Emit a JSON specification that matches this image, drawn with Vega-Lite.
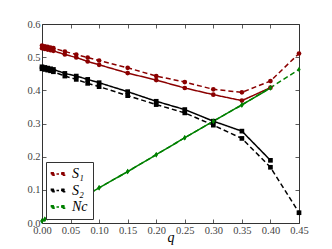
{
  "$schema": "https://vega.github.io/schema/vega-lite/v6.json",
  "width": 257,
  "height": 199,
  "autosize": {"type": "none"},
  "padding": {"left": 42, "top": 24, "right": 33, "bottom": 26},
  "data": {"values": [
    {"q":0,"v":0.527,"s":"S₁","t":"solid"},{"q":0.005,"v":0.525,"s":"S₁","t":"solid"},{"q":0.01,"v":0.523,"s":"S₁","t":"solid"},{"q":0.015,"v":0.521,"s":"S₁","t":"solid"},{"q":0.02,"v":0.519,"s":"S₁","t":"solid"},{"q":0.04,"v":0.508,"s":"S₁","t":"solid"},{"q":0.06,"v":0.499,"s":"S₁","t":"solid"},{"q":0.08,"v":0.487,"s":"S₁","t":"solid"},{"q":0.1,"v":0.477,"s":"S₁","t":"solid"},{"q":0.15,"v":0.452,"s":"S₁","t":"solid"},{"q":0.2,"v":0.431,"s":"S₁","t":"solid"},{"q":0.25,"v":0.407,"s":"S₁","t":"solid"},{"q":0.3,"v":0.387,"s":"S₁","t":"solid"},{"q":0.35,"v":0.369,"s":"S₁","t":"solid"},{"q":0.4,"v":0.408,"s":"S₁","t":"solid"},
    {"q":0,"v":0.535,"s":"S₁","t":"dashed"},{"q":0.005,"v":0.533,"s":"S₁","t":"dashed"},{"q":0.01,"v":0.531,"s":"S₁","t":"dashed"},{"q":0.015,"v":0.529,"s":"S₁","t":"dashed"},{"q":0.02,"v":0.527,"s":"S₁","t":"dashed"},{"q":0.04,"v":0.517,"s":"S₁","t":"dashed"},{"q":0.06,"v":0.508,"s":"S₁","t":"dashed"},{"q":0.08,"v":0.499,"s":"S₁","t":"dashed"},{"q":0.1,"v":0.49,"s":"S₁","t":"dashed"},{"q":0.15,"v":0.468,"s":"S₁","t":"dashed"},{"q":0.2,"v":0.443,"s":"S₁","t":"dashed"},{"q":0.25,"v":0.425,"s":"S₁","t":"dashed"},{"q":0.3,"v":0.403,"s":"S₁","t":"dashed"},{"q":0.35,"v":0.394,"s":"S₁","t":"dashed"},{"q":0.4,"v":0.428,"s":"S₁","t":"dashed"},{"q":0.45,"v":0.511,"s":"S₁","t":"dashed"},
    {"q":0,"v":0.471,"s":"S₂","t":"solid"},{"q":0.005,"v":0.469,"s":"S₂","t":"solid"},{"q":0.01,"v":0.467,"s":"S₂","t":"solid"},{"q":0.015,"v":0.465,"s":"S₂","t":"solid"},{"q":0.02,"v":0.463,"s":"S₂","t":"solid"},{"q":0.04,"v":0.451,"s":"S₂","t":"solid"},{"q":0.06,"v":0.443,"s":"S₂","t":"solid"},{"q":0.08,"v":0.433,"s":"S₂","t":"solid"},{"q":0.1,"v":0.423,"s":"S₂","t":"solid"},{"q":0.15,"v":0.396,"s":"S₂","t":"solid"},{"q":0.2,"v":0.367,"s":"S₂","t":"solid"},{"q":0.25,"v":0.342,"s":"S₂","t":"solid"},{"q":0.3,"v":0.307,"s":"S₂","t":"solid"},{"q":0.35,"v":0.277,"s":"S₂","t":"solid"},{"q":0.4,"v":0.189,"s":"S₂","t":"solid"},
    {"q":0,"v":0.465,"s":"S₂","t":"dashed"},{"q":0.005,"v":0.463,"s":"S₂","t":"dashed"},{"q":0.01,"v":0.461,"s":"S₂","t":"dashed"},{"q":0.015,"v":0.459,"s":"S₂","t":"dashed"},{"q":0.02,"v":0.456,"s":"S₂","t":"dashed"},{"q":0.04,"v":0.443,"s":"S₂","t":"dashed"},{"q":0.06,"v":0.433,"s":"S₂","t":"dashed"},{"q":0.08,"v":0.421,"s":"S₂","t":"dashed"},{"q":0.1,"v":0.411,"s":"S₂","t":"dashed"},{"q":0.15,"v":0.384,"s":"S₂","t":"dashed"},{"q":0.2,"v":0.357,"s":"S₂","t":"dashed"},{"q":0.25,"v":0.332,"s":"S₂","t":"dashed"},{"q":0.3,"v":0.295,"s":"S₂","t":"dashed"},{"q":0.35,"v":0.255,"s":"S₂","t":"dashed"},{"q":0.4,"v":0.168,"s":"S₂","t":"dashed"},{"q":0.45,"v":0.031,"s":"S₂","t":"dashed"},
    {"q":0,"v":0.006,"s":"Nc","t":"solid"},{"q":0.005,"v":0.011,"s":"Nc","t":"solid"},{"q":0.01,"v":0.016,"s":"Nc","t":"solid"},{"q":0.015,"v":0.021,"s":"Nc","t":"solid"},{"q":0.02,"v":0.026,"s":"Nc","t":"solid"},{"q":0.04,"v":0.046,"s":"Nc","t":"solid"},{"q":0.06,"v":0.066,"s":"Nc","t":"solid"},{"q":0.08,"v":0.086,"s":"Nc","t":"solid"},{"q":0.1,"v":0.106,"s":"Nc","t":"solid"},{"q":0.15,"v":0.155,"s":"Nc","t":"solid"},{"q":0.2,"v":0.206,"s":"Nc","t":"solid"},{"q":0.25,"v":0.257,"s":"Nc","t":"solid"},{"q":0.3,"v":0.307,"s":"Nc","t":"solid"},{"q":0.35,"v":0.356,"s":"Nc","t":"solid"},{"q":0.4,"v":0.407,"s":"Nc","t":"solid"},
    {"q":0,"v":0.006,"s":"Nc","t":"dashed"},{"q":0.005,"v":0.011,"s":"Nc","t":"dashed"},{"q":0.01,"v":0.016,"s":"Nc","t":"dashed"},{"q":0.015,"v":0.021,"s":"Nc","t":"dashed"},{"q":0.02,"v":0.026,"s":"Nc","t":"dashed"},{"q":0.04,"v":0.046,"s":"Nc","t":"dashed"},{"q":0.06,"v":0.066,"s":"Nc","t":"dashed"},{"q":0.08,"v":0.086,"s":"Nc","t":"dashed"},{"q":0.1,"v":0.106,"s":"Nc","t":"dashed"},{"q":0.15,"v":0.155,"s":"Nc","t":"dashed"},{"q":0.2,"v":0.206,"s":"Nc","t":"dashed"},{"q":0.25,"v":0.257,"s":"Nc","t":"dashed"},{"q":0.3,"v":0.307,"s":"Nc","t":"dashed"},{"q":0.35,"v":0.356,"s":"Nc","t":"dashed"},{"q":0.4,"v":0.408,"s":"Nc","t":"dashed"},{"q":0.45,"v":0.463,"s":"Nc","t":"dashed"}
  ]},
  "layer": [
    {
      "mark": {"type": "line", "strokeWidth": 1.5},
      "encoding": {
        "x": {"field": "q", "type": "quantitative", "scale": {"domain": [0, 0.45], "nice": false, "zero": false},
              "axis": {"orient": "bottom", "title": "q", "values": [0,0.05,0.1,0.15,0.2,0.25,0.3,0.35,0.4,0.45], "format": ".2f",
                       "titleBaseline": "alphabetic", "titleY": 18}},
        "y": {"field": "v", "type": "quantitative", "scale": {"domain": [0, 0.6], "nice": false},
              "axis": {"orient": "left", "title": null, "values": [0,0.1,0.2,0.3,0.4,0.5,0.6], "format": ".1f"}},
        "color": {"field": "s", "type": "nominal",
                  "scale": {"domain": ["S₁","S₂","Nc"], "range": ["#8b0000","#000000","#008000"]},
                  "legend": {"orient": "bottom-left", "offset": 4, "title": null,
                             "symbolType": "M-1,0L1,0M-1.1,-0.22L-0.66,-0.22L-0.66,0.22L-1.1,0.22ZM0.66,-0.22L1.1,-0.22L1.1,0.22L0.66,0.22Z",
                             "symbolSize": 144, "symbolStrokeWidth": 1.5, "symbolDash": [2.5, 2],
                             "labelFont": "Liberation Serif", "labelFontStyle": "italic", "labelFontSize": 14, "labelColor": "#000",
                             "fillColor": "white", "strokeColor": "#333", "padding": 5, "rowPadding": 2.5, "labelOffset": 7,
                             "encode": {"symbols": {"update": {"fill": {"scale": "color", "field": "value"}, "stroke": {"scale": "color", "field": "value"}}}}}},
        "strokeDash": {"field": "t", "type": "nominal", "scale": {"domain": ["solid","dashed"], "range": [[1,0],[5,3]]}, "legend": null},
        "detail": {"field": "t"}
      }
    },
    {
      "transform": [{"filter": "datum.s === 'S₁'"}],
      "mark": {"type": "point", "filled": true, "opacity": 1, "shape": "circle", "size": 22},
      "encoding": {
        "x": {"field": "q", "type": "quantitative", "axis": {"orient": "top", "labels": false, "title": null, "values": [0,0.05,0.1,0.15,0.2,0.25,0.3,0.35,0.4,0.45]}},
        "y": {"field": "v", "type": "quantitative", "axis": {"orient": "right", "labels": false, "title": null, "values": [0,0.1,0.2,0.3,0.4,0.5,0.6]}},
        "color": {"field": "s", "type": "nominal", "legend": null}
      }
    },
    {
      "transform": [{"filter": "datum.s === 'S₂'"}],
      "mark": {"type": "point", "filled": true, "opacity": 1, "shape": "square", "size": 22},
      "encoding": {
        "x": {"field": "q", "type": "quantitative", "axis": null},
        "y": {"field": "v", "type": "quantitative", "axis": null},
        "color": {"field": "s", "type": "nominal", "legend": null}
      }
    },
    {
      "transform": [{"filter": "datum.s === 'Nc'"}],
      "mark": {"type": "point", "filled": true, "opacity": 1, "shape": "M0,-1L0.6,0L0,1L-0.6,0Z", "size": 30},
      "encoding": {
        "x": {"field": "q", "type": "quantitative", "axis": null},
        "y": {"field": "v", "type": "quantitative", "axis": null},
        "color": {"field": "s", "type": "nominal", "legend": null}
      }
    }
  ],
  "resolve": {"axis": {"x": "independent", "y": "independent"}},
  "config": {
    "view": {"stroke": "#333", "strokeWidth": 1},
    "axis": {"grid": false, "domain": false, "tickSize": -4, "tickColor": "#333", "tickWidth": 0.8, "labelFlush": false,
             "labelFont": "Liberation Serif", "labelFontSize": 10.5, "labelColor": "#444", "labelPadding": 6,
             "titleFont": "Liberation Serif", "titleFontStyle": "italic", "titleFontWeight": "normal", "titleFontSize": 14, "titleColor": "#000", "titlePadding": 0}
  }
}
